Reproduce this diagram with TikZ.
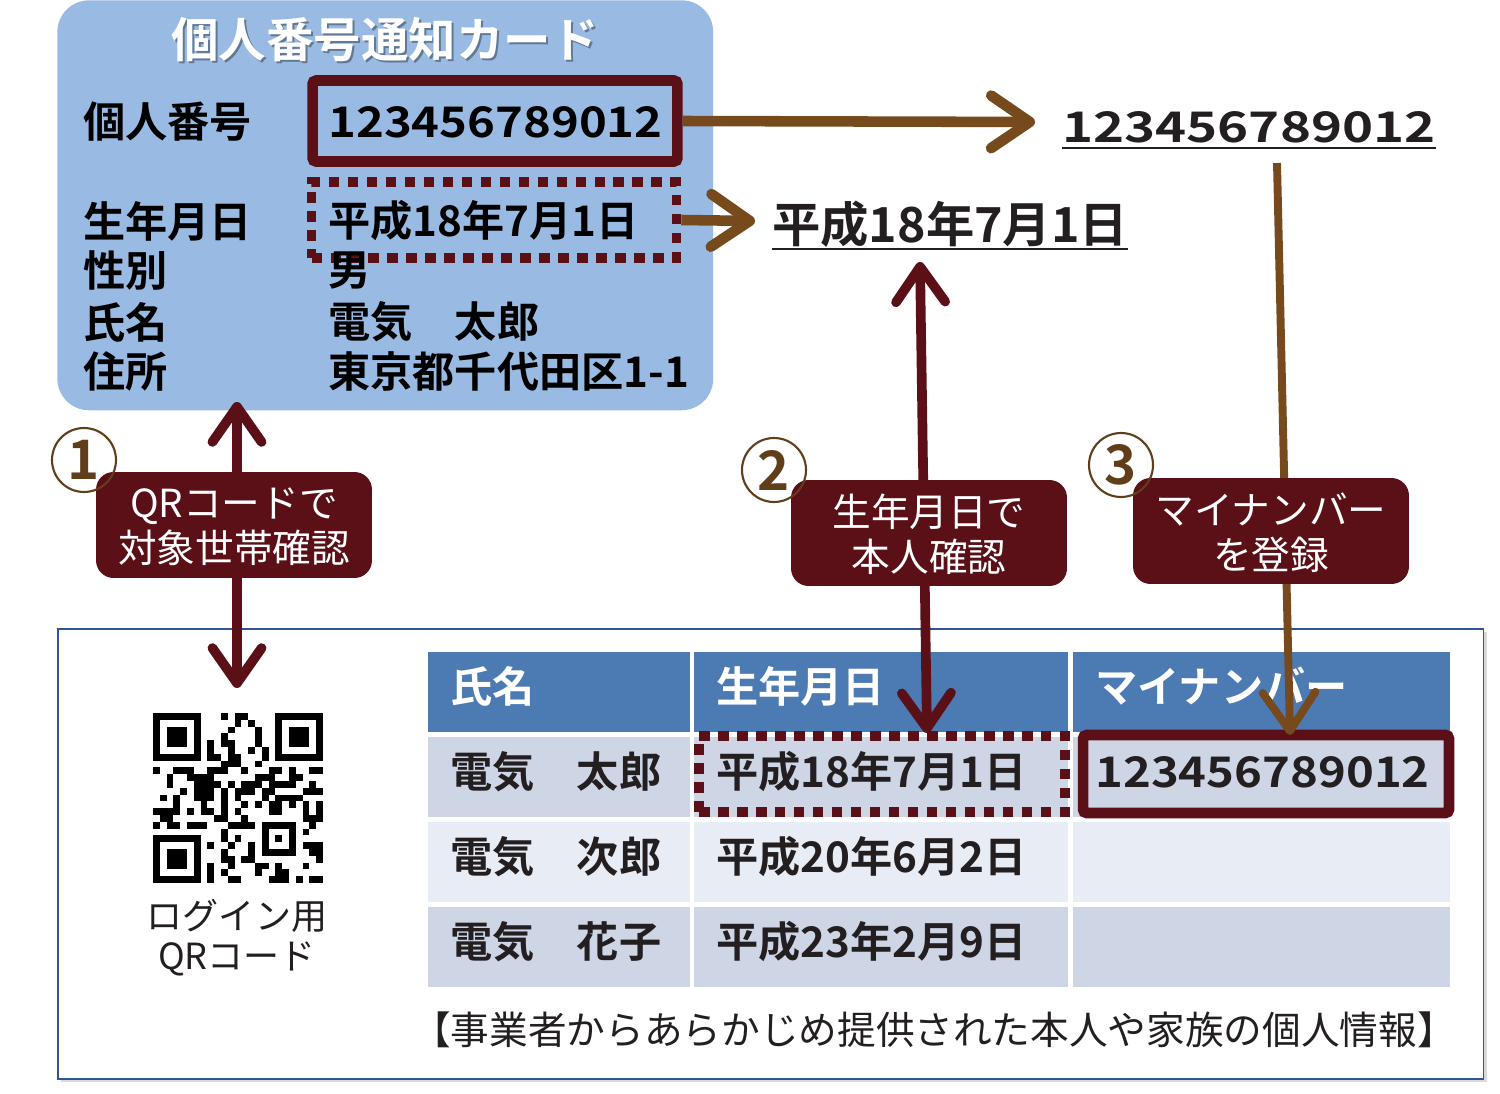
\documentclass[tikz,border=0pt]{standalone}
\usepackage{fontspec}
\setmainfont{Noto Sans CJK JP}[BoldFont={Noto Sans CJK JP Bold}]
\newfontfamily\numfont{Noto Sans CJK JP Bold}[FakeStretch=1.12]
\newfontfamily\bignumfont{Noto Sans CJK JP Bold}[FakeStretch=1.25]
\usetikzlibrary{positioning,arrows.meta,shadows}

\definecolor{cardblue}{RGB}{153,187,227}
\definecolor{darkred}{RGB}{90,16,22}
\definecolor{arrbrown}{RGB}{119,74,30}
\definecolor{numbrown}{RGB}{96,62,26}
\definecolor{headblue}{RGB}{76,123,180}
\definecolor{rowdk}{RGB}{206,214,230}
\definecolor{rowlt}{RGB}{232,236,244}
\definecolor{frameblue}{RGB}{47,85,151}
\definecolor{txtgray}{RGB}{35,31,32}

\begin{document}
\begin{tikzpicture}
  [x=0.02cm,y=-0.02cm,
  lab/.style={anchor=west,inner sep=0pt,font=\bfseries\fontsize{24}{27}\selectfont},
  note/.style={rectangle,rounded corners=10pt,fill=darkred,text=white,align=center,
    minimum width=5.52cm,minimum height=2.12cm,text depth=-6pt,font=\fontsize{22}{25.5}\selectfont},
  num/.style={circle,draw=numbrown,line width=1.2pt,minimum size=1.28cm,inner sep=0pt,
    text=numbrown,font=\bfseries\fontsize{31}{31}\selectfont},
  solidbox/.style={draw=darkred,line width=6pt,rounded corners=2pt},
  dotbox/.style={draw=darkred,line width=5.5pt,dash pattern=on 6pt off 4.8pt},
  brownarr/.style={draw=arrbrown,line width=6pt,-{Straight Barb[length=22pt,width=30pt,round]}},
  redarr/.style={draw=darkred,line width=5.5pt,
    {Straight Barb[length=20pt,width=28pt,round]}-{Straight Barb[length=20pt,width=28pt,round]}},
  cell/.style={anchor=north west,inner xsep=0.44cm,inner ysep=0pt,minimum height=1.6cm,
    text depth=8.5pt,align=left,text=txtgray,font=\bfseries\fontsize{24}{27}\selectfont},
  col1/.style={text width=4.36cm},
  col2/.style={text width=6.6cm},
  col3/.style={text width=6.66cm}]
  \useasboundingbox (0,0) rectangle (1500,1094);

  % notification card
  \node[fill=cardblue,rounded corners=18pt,anchor=north west,minimum width=13.12cm,
    minimum height=8.2cm] (card) at (57,0) {};
  \node[font=\bfseries\fontsize{27}{30}\selectfont,text=black,opacity=.35] (titleshadow) at (387,42) {個人番号通知カード};
  \node[font=\bfseries\fontsize{27}{30}\selectfont,text=white] (title) at (385,40) {個人番号通知カード};
  \node[lab] (lnum) at (83,122) {個人番号};
  \node[lab] (lbirth) at (83,221) {生年月日};
  \node[lab] (lsex) at (83,271) {性別};
  \node[lab] (lname) at (83,322) {氏名};
  \node[lab] (laddr) at (83,371) {住所};
  \node[solidbox,minimum width=7.3cm,minimum height=1.62cm] (cardbox) at (495,121) {};
  \node[dotbox,minimum width=7.3cm,minimum height=1.52cm] (datebox) at (494,220) {};
  \node[lab,font=\numfont\fontsize{24}{27}\selectfont] (cardnum) at (328,122) {123456789012};
  \node[lab] (cardbirth) at (328,221) {平成18年7月1日};
  \node[lab] (cardsex) at (328,271) {男};
  \node[lab] (cardname) at (328,322) {電気　太郎};
  \node[lab] (cardaddr) at (328,371) {東京都千代田区1-1};

  % extracted values
  \node[anchor=west,inner sep=0pt,font=\bignumfont\fontsize{24}{26}\selectfont,text=txtgray] (outnum) at (1062,127) {123456789012};
  \draw[txtgray,line width=1.2pt] ([yshift=-3pt]outnum.south west) -- ([yshift=-3pt]outnum.south east);
  \node[anchor=west,inner sep=0pt,font=\bfseries\fontsize{27.5}{30}\selectfont,text=txtgray] (outdate) at (772,224) {平成18年7月1日};
  \draw[txtgray,line width=1.2pt] ([yshift=-1pt]outdate.south west) -- ([yshift=-1pt]outdate.south east);

  % registered data
  \node[draw=frameblue,fill=white,line width=1pt,drop shadow={shadow xshift=2pt,shadow yshift=-2pt,opacity=.3},
    anchor=north west,minimum width=28.52cm,minimum height=9cm] (frame) at (57,628) {};
  \node[cell,col1,fill=headblue,text=white] (h1) at (428,652) {氏名};
  \node[cell,col2,fill=headblue,text=white] (h2) at (694,652) {生年月日};
  \node[cell,col3,fill=headblue,text=white] (h3) at (1073,652) {マイナンバー};
  \foreach \nm/\bd/\cl/\y [count=\i] in {電気　太郎/平成18年7月1日/rowdk/737,
      電気　次郎/平成20年6月2日/rowlt/822,電気　花子/平成23年2月9日/rowdk/907}{
    \node[cell,col1,fill=\cl] (r\i-1) at (428,\y) {\nm};
    \node[cell,col2,fill=\cl] (r\i-2) at (694,\y) {\bd};
    \node[cell,col3,fill=\cl] (r\i-3) at (1073,\y) {};
  }
  \node[lab,text=txtgray,font=\numfont\fontsize{24}{27}\selectfont] (tnum) at (1095,772) {123456789012};
  \node[dotbox,minimum width=7.32cm,minimum height=1.52cm] (tdatebox) at (882,774) {};
  \node[solidbox,minimum width=7.32cm,minimum height=1.56cm] (tnumbox) at (1266,774) {};

  % QR code
  \begin{scope}[shift={(153,713)},x=0.136cm,y=-0.136cm]
    \pgfmathsetseed{1905}
    \foreach \i in {0,...,24}
      \foreach \j in {0,...,24}{
        \pgfmathtruncatemacro\on{((\i<8 && \j<8) || (\i>16 && \j<8) || (\i<8 && \j>16)
          || (\i>14 && \i<22 && \j>14 && \j<22)) ? 0 : (rnd<0.48 ? 1 : 0)}
        \ifnum\on=1 \fill (\i,\j) rectangle ++(1,1); \fi
      }
    \foreach \a/\b in {0/0,18/0,0/18}{
      \fill (\a,\b) rectangle ++(7,7);
      \fill[white] (\a+1,\b+1) rectangle ++(5,5);
      \fill (\a+2,\b+2) rectangle ++(3,3);
    }
    \fill (16,16) rectangle ++(5,5);
    \fill[white] (17,17) rectangle ++(3,3);
    \fill (18,18) rectangle ++(1,1);
  \end{scope}
  \node[align=center,inner sep=0pt,text=txtgray,font=\fontsize{20.5}{22.7}\selectfont] (qrlabel) at (237,938) {ログイン用\\QRコード};
  \node[inner sep=0pt,text=txtgray,font=\fontsize{22}{24}\selectfont] (caption) at (934,1030) {【事業者からあらかじめ提供された本人や家族の個人情報】};

  % arrows
  \coordinate (numtip) at (1035,122);
  \coordinate (datetip) at (755,221);
  \coordinate (a1top) at (237,402);
  \coordinate (a1bot) at (237,688);
  \coordinate (a2top) at (920,262);
  \coordinate (a2bot) at (927,733);
  \coordinate (a3top) at (1277,163);
  \coordinate (a3bot) at (1290,735);
  \draw[brownarr] (cardbox.east) -- (numtip);
  \draw[brownarr] (datebox.east) -- (datetip);
  \draw[brownarr,line width=4.5pt] (a3top) -- (a3bot);
  \draw[redarr] (a1top) -- (a1bot);
  \draw[redarr] (a2top) -- (a2bot);

  % steps
  \node[note] (note1) at (234,525) {QRコードで\\対象世帯確認};
  \node[note] (note2) at (929,533) {生年月日で\\本人確認};
  \node[note] (note3) at (1271,531) {マイナンバー\\を登録};
  \node[num] (n1) at (84,460) {1};
  \node[num] (n2) at (774,470) {2};
  \node[num] (n3) at (1121,465) {3};
\end{tikzpicture}
\end{document}
